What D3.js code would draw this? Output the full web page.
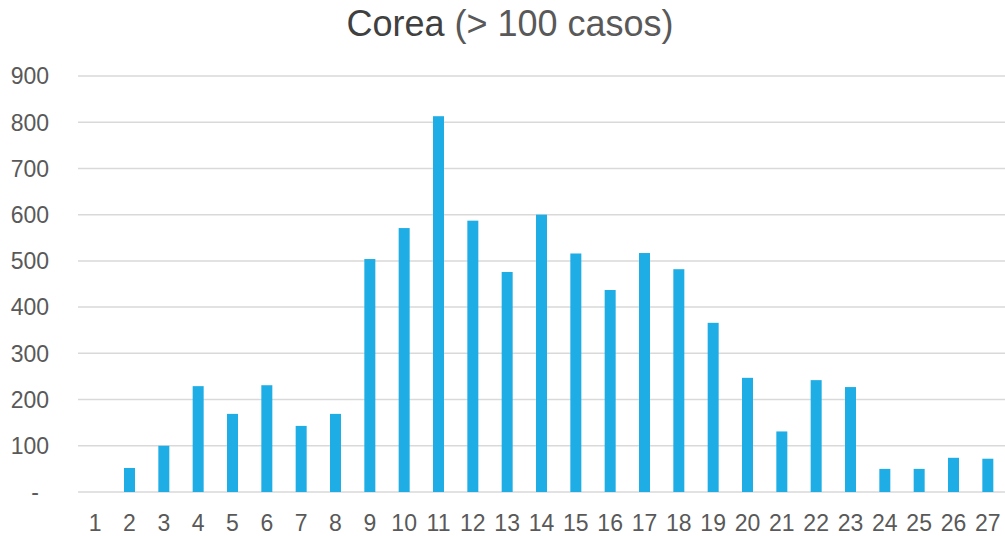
<!DOCTYPE html>
<html>
<head>
<meta charset="utf-8">
<script src="https://cdn.jsdelivr.net/npm/d3@7"></script>
<style>
  body { margin: 0; background: #fff; }
  svg { font-family: "Liberation Sans", Arial, sans-serif; }
</style>
</head>
<body>
<script>
  let days = d3.range(1, 28).map(String)
  let cases = [0, 52, 100, 229, 169, 231, 143, 169, 504, 571, 813, 587, 476, 600, 516,
    437, 517, 482, 366, 247, 131, 242, 227, 50, 50, 74, 72]
  let yTicks = [0, 100, 200, 300, 400, 500, 600, 700, 800, 900]

  let width = 1005, height = 536
  let margin = {top: 76, right: 0, bottom: 44, left: 78}

  let svg = d3.select('body').append('svg')
    .attr('width', width)
    .attr('height', height)

  let x = d3.scaleBand().domain(days).range([margin.left, width - margin.right])
  let y = d3.scaleLinear().domain([0, 900]).range([height - margin.bottom, margin.top])

  // grid
  svg.append('g')
    .selectAll('line')
    .data(yTicks)
    .enter().append('line')
    .attr('x1', margin.left)
    .attr('x2', width - margin.right)
    .attr('y1', d => y(d))
    .attr('y2', d => y(d))
    .attr('stroke', '#d9d9d9')
    .attr('stroke-width', 1.5)

  // y labels
  svg.append('g')
    .selectAll('text')
    .data(yTicks)
    .enter().append('text')
    .attr('x', d => d === 0 ? 39 : 49)
    .attr('y', d => y(d))
    .attr('dy', '0.36em')
    .attr('text-anchor', 'end')
    .attr('fill', '#595959')
    .style('font-size', '23px')
    .text(d => d === 0 ? '-' : d)

  // bars
  let barW = 11
  svg.append('g')
    .selectAll('rect')
    .data(cases)
    .enter().append('rect')
    .attr('x', (d, i) => x(days[i]) + x.bandwidth() / 2 - barW / 2)
    .attr('y', d => y(d))
    .attr('width', barW)
    .attr('height', d => y(0) - y(d))
    .attr('fill', '#1eade4')

  // x labels
  svg.append('g')
    .selectAll('text')
    .data(days)
    .enter().append('text')
    .attr('x', d => x(d) + x.bandwidth() / 2)
    .attr('y', 531)
    .attr('text-anchor', 'middle')
    .attr('fill', '#595959')
    .style('font-size', '23px')
    .text(d => d)

  // title
  let title = svg.append('text')
    .attr('x', 510)
    .attr('y', 36)
    .attr('text-anchor', 'middle')
    .style('font-size', '36px')
  title.append('tspan').attr('fill', '#404040').text('Corea')
  title.append('tspan').attr('fill', '#595959').text(' (> 100 casos)')
</script>
</body>
</html>
